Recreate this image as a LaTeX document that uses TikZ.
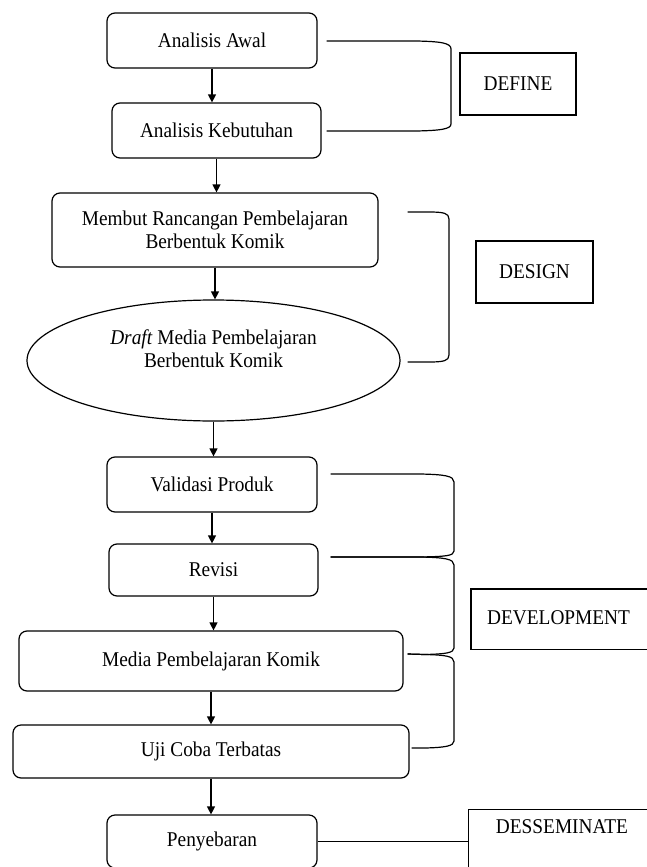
\documentclass[tikz,border=0pt]{standalone}
\usepackage{fontspec}
\setmainfont[FakeStretch=0.92]{Liberation Serif}
\usetikzlibrary{shapes.geometric,arrows.meta,calc}
\begin{document}
\begin{tikzpicture}[x=1pt,y=1pt, font=\fontsize{21}{23}\selectfont,
  stepbox/.style={draw, rounded corners=8pt, line width=1.2pt, inner sep=0pt, align=center},
  phasebox/.style={draw, line width=1.2pt, inner sep=0pt},
  arr/.style={line width=1.2pt, -{Triangle[length=8pt,width=8pt]}},
  br/.style={line width=1.2pt}]
\useasboundingbox (0,0) rectangle (647,-867);
% step boxes
\node[stepbox, minimum width=210, minimum height=55] (aa) at (212,-40.5) {Analisis Awal};
\node[stepbox, minimum width=209, minimum height=55] (ak) at (216.5,-130.5) {Analisis Kebutuhan};
\node[stepbox, minimum width=326, minimum height=74] (mr) at (215,-230) {Membut Rancangan Pembelajaran\\Berbentuk Komik};
\node[ellipse, draw, line width=1.2pt, minimum width=373, minimum height=121, inner sep=0pt] (dr) at (213.5,-360.5) {};
\node[align=center, inner sep=0pt] (drt) at (213.5,-349) {\textit{Draft} Media Pembelajaran\\Berbentuk Komik};
\node[stepbox, minimum width=210, minimum height=55] (vp) at (212,-484.5) {Validasi Produk};
\node[stepbox, minimum width=209, minimum height=52] (rv) at (213.5,-570) {Revisi};
\node[stepbox, minimum width=384, minimum height=60] (mk) at (211,-661) {Media Pembelajaran Komik};
\node[stepbox, minimum width=396, minimum height=53] (uj) at (211,-751.5) {Uji Coba Terbatas};
\node[stepbox, minimum width=210, minimum height=53] (py) at (212,-841.5) {Penyebaran};
% arrows
\draw[arr] (aa.south) -- (aa.south |- ak.north);
\draw[arr] (ak.south) -- (ak.south |- mr.north);
\draw[arr] (mr.south) -- (mr.south |- dr.north);
\draw[arr] (dr.south) -- (dr.south |- vp.north);
\draw[arr] (vp.south) -- (vp.south |- rv.north);
\draw[arr] (rv.south) -- (rv.south |- mk.north);
\draw[arr] (mk.south) -- (mk.south |- uj.north);
\draw[arr] (uj.south) -- (uj.south |- py.north);
% phase boxes
\node[phasebox, minimum width=116, minimum height=62] (def) at (518,-84) {DEFINE};
\node[phasebox, minimum width=117, minimum height=62] (des) at (534.5,-272) {DESIGN};
\node[inner sep=0pt, anchor=north west, minimum width=230pt, minimum height=60pt] (dev) at (471,-589) {};
\draw[br] (dev.north east) -- (dev.north west) -- (dev.south west) -- (dev.south east);
\node[inner sep=0pt, anchor=west] (devt) at (487,-618) {DEVELOPMENT};
\node[phasebox, anchor=north west, minimum width=188pt, minimum height=72pt] (ds) at (468,-809) {};
\node[inner sep=0pt] (dst) at (562,-827) {DESSEMINATE};
\draw[br] (py.east) -- (py.east -| ds.west);
% brackets
\draw[br] ($(aa.east)+(9,-0.5)$) -- (416,-41) .. controls (441,-41.5) and (451,-43) .. (451,-49)
  -- (451,-124) .. controls (451,-129) and (441,-130.5) .. (416,-131) -- ($(ak.east)+(5,-0.5)$);
\draw[br] ($(mr.east)+(29,18)$) -- (432,-212) .. controls (443,-212.3) and (449,-213) .. (449,-219)
  -- (449,-355) .. controls (449,-361) and (443,-361.7) .. (432,-362) -- ($(dr.east)+(7,-1.5)$);
\draw[br] ($(vp.east)+(13,10.5)$) -- (420,-474) .. controls (445,-474.5) and (454,-476) .. (454,-482)
  -- (454,-551) .. controls (454,-556) and (445,-556.5) .. (420,-557) -- ($(rv.east)+(12,13)$);
\draw[br] ($(rv.east)+(12,13)$) -- (420,-557) .. controls (445,-557.5) and (454,-559) .. (454,-565)
  -- (454,-648) .. controls (454,-653) and (445,-654) .. (425,-654.5) -- ($(mk.east)+(4,7)$);
\draw[br] ($(mk.east)+(4,7)$) -- (425,-654.5) .. controls (445,-655) and (454,-656) .. (454,-662)
  -- (454,-741) .. controls (454,-746) and (445,-747.5) .. (425,-748) -- ($(uj.east)+(2,3.5)$);
\end{tikzpicture}
\end{document}
